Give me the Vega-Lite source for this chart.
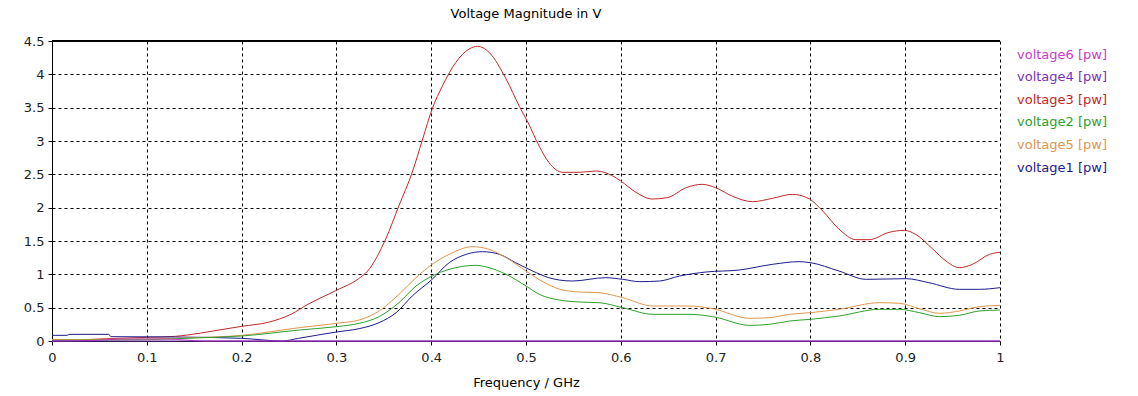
{
  "$schema": "https://vega.github.io/schema/vega-lite/v6.json",
  "width": 948,
  "height": 300,
  "autosize": "none",
  "padding": {"left": 52, "top": 41, "right": 138, "bottom": 55},
  "background": "white",
  "title": {"text": "Voltage Magnitude in V", "font": "DejaVu Sans", "fontSize": 13, "fontWeight": "normal", "color": "#000000", "offset": 14, "anchor": "middle"},
  "config": {
    "view": {"stroke": null},
    "axis": {"labelFont": "DejaVu Sans", "labelFontSize": 13, "labelColor": "#222222", "labelOverlap": false, "tickColor": "#000000", "tickSize": 4, "domainColor": "#000000", "grid": true, "gridColor": "#000000", "gridDash": [3, 3], "gridOpacity": 1, "gridWidth": 1, "titleFont": "DejaVu Sans", "titleFontSize": 13, "titleFontWeight": "normal", "titleColor": "#000000"}
  },
  "data": {"values": [
    {"series": "voltage3", "freq": 0, "v": 0.02},
    {"series": "voltage3", "freq": 0.03, "v": 0.02},
    {"series": "voltage3", "freq": 0.05, "v": 0.03},
    {"series": "voltage3", "freq": 0.1, "v": 0.055},
    {"series": "voltage3", "freq": 0.13, "v": 0.07},
    {"series": "voltage3", "freq": 0.143, "v": 0.09},
    {"series": "voltage3", "freq": 0.17, "v": 0.15},
    {"series": "voltage3", "freq": 0.2, "v": 0.22},
    {"series": "voltage3", "freq": 0.228, "v": 0.28},
    {"series": "voltage3", "freq": 0.252, "v": 0.4},
    {"series": "voltage3", "freq": 0.27, "v": 0.55},
    {"series": "voltage3", "freq": 0.3, "v": 0.76},
    {"series": "voltage3", "freq": 0.323, "v": 0.93},
    {"series": "voltage3", "freq": 0.333, "v": 1.05},
    {"series": "voltage3", "freq": 0.352, "v": 1.53},
    {"series": "voltage3", "freq": 0.366, "v": 2.03},
    {"series": "voltage3", "freq": 0.38, "v": 2.53},
    {"series": "voltage3", "freq": 0.391, "v": 3.03},
    {"series": "voltage3", "freq": 0.401, "v": 3.48},
    {"series": "voltage3", "freq": 0.412, "v": 3.83},
    {"series": "voltage3", "freq": 0.426, "v": 4.18},
    {"series": "voltage3", "freq": 0.44, "v": 4.38},
    {"series": "voltage3", "freq": 0.449, "v": 4.42},
    {"series": "voltage3", "freq": 0.461, "v": 4.33},
    {"series": "voltage3", "freq": 0.479, "v": 3.93},
    {"series": "voltage3", "freq": 0.493, "v": 3.52},
    {"series": "voltage3", "freq": 0.502, "v": 3.28},
    {"series": "voltage3", "freq": 0.514, "v": 2.92},
    {"series": "voltage3", "freq": 0.524, "v": 2.68},
    {"series": "voltage3", "freq": 0.539, "v": 2.53},
    {"series": "voltage3", "freq": 0.556, "v": 2.53},
    {"series": "voltage3", "freq": 0.574, "v": 2.55},
    {"series": "voltage3", "freq": 0.591, "v": 2.48},
    {"series": "voltage3", "freq": 0.6, "v": 2.4},
    {"series": "voltage3", "freq": 0.616, "v": 2.23},
    {"series": "voltage3", "freq": 0.633, "v": 2.13},
    {"series": "voltage3", "freq": 0.649, "v": 2.15},
    {"series": "voltage3", "freq": 0.669, "v": 2.3},
    {"series": "voltage3", "freq": 0.686, "v": 2.35},
    {"series": "voltage3", "freq": 0.7, "v": 2.3},
    {"series": "voltage3", "freq": 0.718, "v": 2.17},
    {"series": "voltage3", "freq": 0.739, "v": 2.09},
    {"series": "voltage3", "freq": 0.76, "v": 2.14},
    {"series": "voltage3", "freq": 0.781, "v": 2.2},
    {"series": "voltage3", "freq": 0.799, "v": 2.13},
    {"series": "voltage3", "freq": 0.813, "v": 1.95},
    {"series": "voltage3", "freq": 0.83, "v": 1.68},
    {"series": "voltage3", "freq": 0.848, "v": 1.52},
    {"series": "voltage3", "freq": 0.862, "v": 1.52},
    {"series": "voltage3", "freq": 0.883, "v": 1.63},
    {"series": "voltage3", "freq": 0.899, "v": 1.66},
    {"series": "voltage3", "freq": 0.911, "v": 1.6},
    {"series": "voltage3", "freq": 0.929, "v": 1.38},
    {"series": "voltage3", "freq": 0.943, "v": 1.2},
    {"series": "voltage3", "freq": 0.957, "v": 1.1},
    {"series": "voltage3", "freq": 0.971, "v": 1.15},
    {"series": "voltage3", "freq": 0.989, "v": 1.3},
    {"series": "voltage3", "freq": 1.0, "v": 1.33},

    {"series": "voltage1", "freq": 0, "v": 0.085},
    {"series": "voltage1", "freq": 0.016, "v": 0.085},
    {"series": "voltage1", "freq": 0.018, "v": 0.1},
    {"series": "voltage1", "freq": 0.06, "v": 0.1},
    {"series": "voltage1", "freq": 0.062, "v": 0.065},
    {"series": "voltage1", "freq": 0.13, "v": 0.06},
    {"series": "voltage1", "freq": 0.2, "v": 0.04},
    {"series": "voltage1", "freq": 0.243, "v": 0.0},
    {"series": "voltage1", "freq": 0.26, "v": 0.04},
    {"series": "voltage1", "freq": 0.3, "v": 0.135},
    {"series": "voltage1", "freq": 0.324, "v": 0.185},
    {"series": "voltage1", "freq": 0.345, "v": 0.275},
    {"series": "voltage1", "freq": 0.363, "v": 0.425},
    {"series": "voltage1", "freq": 0.38, "v": 0.675},
    {"series": "voltage1", "freq": 0.401, "v": 0.925},
    {"series": "voltage1", "freq": 0.419, "v": 1.175},
    {"series": "voltage1", "freq": 0.437, "v": 1.3},
    {"series": "voltage1", "freq": 0.454, "v": 1.34},
    {"series": "voltage1", "freq": 0.472, "v": 1.3},
    {"series": "voltage1", "freq": 0.489, "v": 1.175},
    {"series": "voltage1", "freq": 0.507, "v": 1.05},
    {"series": "voltage1", "freq": 0.524, "v": 0.95},
    {"series": "voltage1", "freq": 0.535, "v": 0.915},
    {"series": "voltage1", "freq": 0.549, "v": 0.9},
    {"series": "voltage1", "freq": 0.584, "v": 0.95},
    {"series": "voltage1", "freq": 0.602, "v": 0.925},
    {"series": "voltage1", "freq": 0.62, "v": 0.89},
    {"series": "voltage1", "freq": 0.641, "v": 0.9},
    {"series": "voltage1", "freq": 0.662, "v": 0.975},
    {"series": "voltage1", "freq": 0.69, "v": 1.035},
    {"series": "voltage1", "freq": 0.725, "v": 1.065},
    {"series": "voltage1", "freq": 0.76, "v": 1.15},
    {"series": "voltage1", "freq": 0.788, "v": 1.19},
    {"series": "voltage1", "freq": 0.8, "v": 1.175},
    {"series": "voltage1", "freq": 0.83, "v": 1.05},
    {"series": "voltage1", "freq": 0.859, "v": 0.925},
    {"series": "voltage1", "freq": 0.901, "v": 0.935},
    {"series": "voltage1", "freq": 0.925, "v": 0.875},
    {"series": "voltage1", "freq": 0.957, "v": 0.775},
    {"series": "voltage1", "freq": 0.978, "v": 0.775},
    {"series": "voltage1", "freq": 1.0, "v": 0.8},

    {"series": "voltage5", "freq": 0, "v": 0.02},
    {"series": "voltage5", "freq": 0.1, "v": 0.03},
    {"series": "voltage5", "freq": 0.15, "v": 0.05},
    {"series": "voltage5", "freq": 0.2, "v": 0.085},
    {"series": "voltage5", "freq": 0.261, "v": 0.2},
    {"series": "voltage5", "freq": 0.3, "v": 0.265},
    {"series": "voltage5", "freq": 0.324, "v": 0.315},
    {"series": "voltage5", "freq": 0.345, "v": 0.45},
    {"series": "voltage5", "freq": 0.366, "v": 0.7},
    {"series": "voltage5", "freq": 0.384, "v": 0.95},
    {"series": "voltage5", "freq": 0.401, "v": 1.15},
    {"series": "voltage5", "freq": 0.419, "v": 1.3},
    {"series": "voltage5", "freq": 0.444, "v": 1.415},
    {"series": "voltage5", "freq": 0.461, "v": 1.375},
    {"series": "voltage5", "freq": 0.479, "v": 1.25},
    {"series": "voltage5", "freq": 0.5, "v": 1.05},
    {"series": "voltage5", "freq": 0.514, "v": 0.92},
    {"series": "voltage5", "freq": 0.535, "v": 0.78},
    {"series": "voltage5", "freq": 0.556, "v": 0.735},
    {"series": "voltage5", "freq": 0.577, "v": 0.725},
    {"series": "voltage5", "freq": 0.602, "v": 0.65},
    {"series": "voltage5", "freq": 0.634, "v": 0.525},
    {"series": "voltage5", "freq": 0.672, "v": 0.525},
    {"series": "voltage5", "freq": 0.697, "v": 0.485},
    {"series": "voltage5", "freq": 0.736, "v": 0.34},
    {"series": "voltage5", "freq": 0.757, "v": 0.35},
    {"series": "voltage5", "freq": 0.778, "v": 0.4},
    {"series": "voltage5", "freq": 0.8, "v": 0.425},
    {"series": "voltage5", "freq": 0.83, "v": 0.475},
    {"series": "voltage5", "freq": 0.873, "v": 0.575},
    {"series": "voltage5", "freq": 0.894, "v": 0.565},
    {"series": "voltage5", "freq": 0.915, "v": 0.485},
    {"series": "voltage5", "freq": 0.936, "v": 0.415},
    {"series": "voltage5", "freq": 0.957, "v": 0.45},
    {"series": "voltage5", "freq": 0.978, "v": 0.515},
    {"series": "voltage5", "freq": 1.0, "v": 0.535},

    {"series": "voltage2", "freq": 0, "v": 0.01},
    {"series": "voltage2", "freq": 0.1, "v": 0.02},
    {"series": "voltage2", "freq": 0.15, "v": 0.045},
    {"series": "voltage2", "freq": 0.2, "v": 0.075},
    {"series": "voltage2", "freq": 0.261, "v": 0.165},
    {"series": "voltage2", "freq": 0.3, "v": 0.215},
    {"series": "voltage2", "freq": 0.324, "v": 0.265},
    {"series": "voltage2", "freq": 0.345, "v": 0.365},
    {"series": "voltage2", "freq": 0.366, "v": 0.575},
    {"series": "voltage2", "freq": 0.384, "v": 0.825},
    {"series": "voltage2", "freq": 0.401, "v": 0.975},
    {"series": "voltage2", "freq": 0.419, "v": 1.075},
    {"series": "voltage2", "freq": 0.447, "v": 1.135},
    {"series": "voltage2", "freq": 0.461, "v": 1.1},
    {"series": "voltage2", "freq": 0.479, "v": 1.0},
    {"series": "voltage2", "freq": 0.5, "v": 0.825},
    {"series": "voltage2", "freq": 0.514, "v": 0.7},
    {"series": "voltage2", "freq": 0.535, "v": 0.615},
    {"series": "voltage2", "freq": 0.556, "v": 0.585},
    {"series": "voltage2", "freq": 0.577, "v": 0.575},
    {"series": "voltage2", "freq": 0.602, "v": 0.5},
    {"series": "voltage2", "freq": 0.634, "v": 0.4},
    {"series": "voltage2", "freq": 0.672, "v": 0.4},
    {"series": "voltage2", "freq": 0.697, "v": 0.365},
    {"series": "voltage2", "freq": 0.736, "v": 0.235},
    {"series": "voltage2", "freq": 0.757, "v": 0.25},
    {"series": "voltage2", "freq": 0.778, "v": 0.3},
    {"series": "voltage2", "freq": 0.8, "v": 0.325},
    {"series": "voltage2", "freq": 0.83, "v": 0.375},
    {"series": "voltage2", "freq": 0.873, "v": 0.475},
    {"series": "voltage2", "freq": 0.894, "v": 0.475},
    {"series": "voltage2", "freq": 0.915, "v": 0.425},
    {"series": "voltage2", "freq": 0.936, "v": 0.365},
    {"series": "voltage2", "freq": 0.957, "v": 0.385},
    {"series": "voltage2", "freq": 0.978, "v": 0.45},
    {"series": "voltage2", "freq": 1.0, "v": 0.465},

    {"series": "voltage6", "freq": 0, "v": 0},
    {"series": "voltage6", "freq": 0.05, "v": 0.01},
    {"series": "voltage6", "freq": 0.07, "v": 0.03},
    {"series": "voltage6", "freq": 0.12, "v": 0.03},
    {"series": "voltage6", "freq": 0.16, "v": 0},
    {"series": "voltage6", "freq": 1.0, "v": 0},

    {"series": "voltage4", "freq": 0, "v": 0},
    {"series": "voltage4", "freq": 1.0, "v": 0}
  ]},
  "layer": [
    {
      "mark": {"type": "line", "strokeWidth": 1, "interpolate": "monotone"},
      "encoding": {
        "x": {"field": "freq", "type": "quantitative", "scale": {"domain": [0, 1], "nice": false, "zero": false},
              "axis": {"values": [0, 0.1, 0.2, 0.3, 0.4, 0.5, 0.6, 0.7, 0.8, 0.9, 1], "format": "~g", "title": "Frequency / GHz", "labelPadding": 6, "titleBaseline": "top", "titleY": 35, "labelFlush": false, "grid": true}},
        "y": {"field": "v", "type": "quantitative", "scale": {"domain": [0, 4.5], "nice": false},
              "axis": {"values": [0, 0.5, 1, 1.5, 2, 2.5, 3, 3.5, 4, 4.5], "format": "~g", "title": null, "labelPadding": 4, "grid": true}},
        "order": {"field": "freq", "type": "quantitative"},
        "color": {"field": "series", "type": "nominal",
                  "scale": {"domain": ["voltage6", "voltage4", "voltage3", "voltage2", "voltage5", "voltage1"],
                            "range": ["#c83cc8", "#7b2fb5", "#c02828", "#2ea02e", "#e09650", "#1c1c8c"]},
                  "legend": {"orient": "none", "legendX": 952, "legendY": 7, "title": null, "symbolOpacity": 0, "symbolSize": 0, "symbolStrokeWidth": 0, "labelOffset": 0, "labelFont": "DejaVu Sans", "labelFontSize": 13, "labelLimit": 200, "rowPadding": 8.6, "labelColor": {"expr": "scale('color', datum.value)"}, "labelExpr": "datum.label + ' [pw]'"}}
      }
    },
    {
      "mark": {"type": "rule", "color": "#000000", "strokeWidth": 1},
      "encoding": {"y": {"datum": 4.5, "type": "quantitative",
                         "axis": {"values": [0, 0.5, 1, 1.5, 2, 2.5, 3, 3.5, 4, 4.5], "format": "~g", "title": null, "labelPadding": 4, "grid": true}}}
    }
  ]
}
